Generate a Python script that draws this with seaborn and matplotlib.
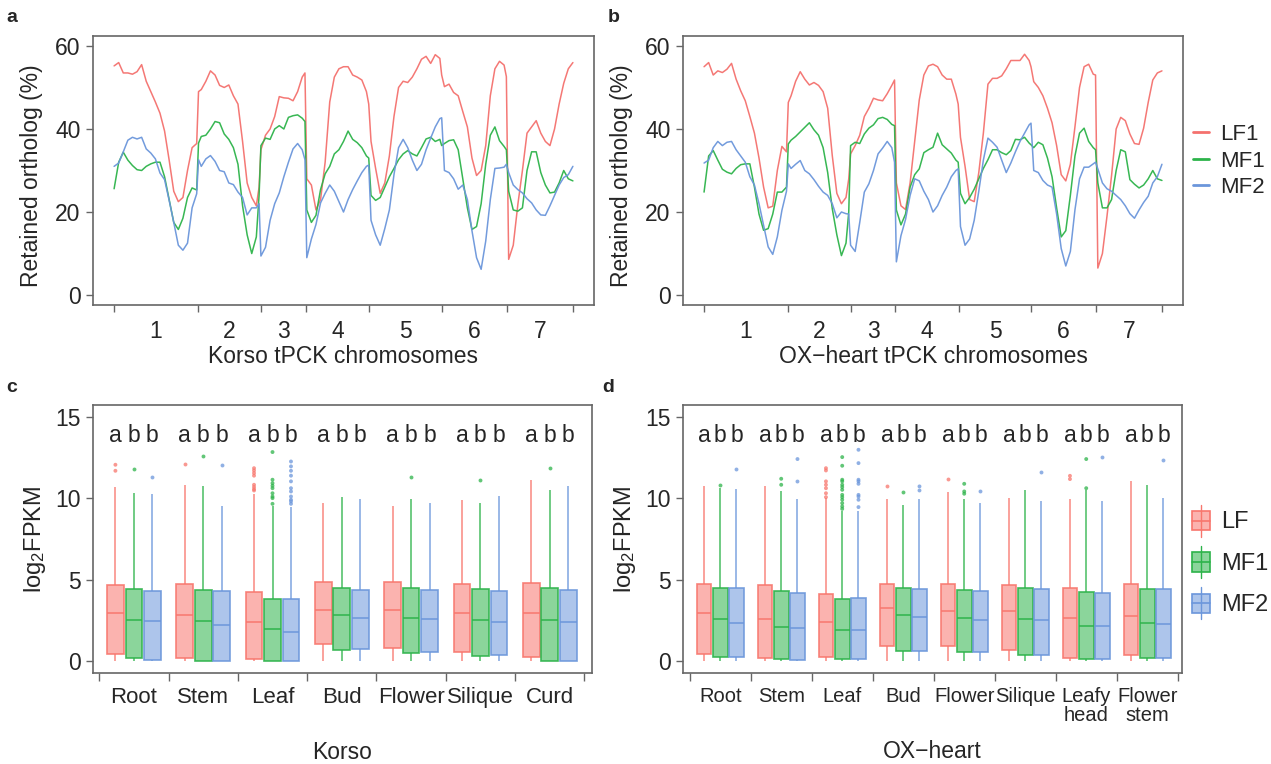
import numpy as np
import pandas as pd
import matplotlib
matplotlib.use("Agg")
import matplotlib.pyplot as plt
import matplotlib.colors as mcolors
import seaborn as sns
from matplotlib.legend_handler import HandlerBase
from matplotlib.patches import Patch, Rectangle
from matplotlib.lines import Line2D


# ── Retained ortholog (%) along the concatenated tPCK chromosomes ───────────
CHROMS = ["1", "2", "3", "4", "5", "6", "7"]
CHR_BOUNDS = [0, 183, 320, 418, 556, 715, 856, 1000]
# window positions (regular steps plus one extra point before each boundary)
POS = sorted(list(range(0, 1001, 10)) + [184, 316, 416, 555, 714, 855])

KORSO_LF1 = [55.2, 56.0, 53.5, 53.5, 53.2, 53.8, 55.5, 51.5, 49.0, 46.5, 43.8, 39.5, 32.5, 25.0, 22.5, 23.5, 30.0, 35.5, 36.5,
             49.0, 49.5, 51.5, 54.0, 53.0, 50.5, 50.0, 50.6, 48.0, 46.0, 37.0, 27.0, 23.5, 21.5,
             26.0, 35.0, 38.5, 40.0, 43.0, 47.8, 47.5, 47.4, 46.8, 49.0, 52.5,
             53.5, 28.0, 26.5, 20.5, 23.0, 32.0, 46.5, 52.5, 54.5, 55.0, 55.0, 53.0, 52.5, 51.8, 49.0,
             46.0, 37.0, 30.5, 24.5, 27.0, 33.5, 43.0, 50.0, 51.5, 51.2, 52.5, 54.5, 56.8, 57.5, 55.8, 57.9, 57.0,
             53.0, 50.2, 50.8, 48.8, 48.0, 44.2, 40.5, 33.0, 28.8, 30.0, 36.0, 48.0, 54.5, 56.3, 55.4,
             52.6, 8.6, 12.0, 21.8, 30.0, 39.0, 40.5, 42.0, 39.0, 37.0, 36.0, 40.0, 46.0, 51.0, 54.5, 56.0]
KORSO_MF1 = [25.6, 32.0, 34.4, 32.5, 31.2, 30.2, 30.0, 31.0, 31.6, 32.0, 32.0, 28.5, 23.0, 17.5, 15.8, 18.5, 23.5, 25.8, 25.3,
             36.6, 38.2, 38.5, 40.0, 41.8, 41.5, 38.8, 37.5, 35.5, 31.5, 21.5, 14.5, 10.0, 14.0,
             24.0, 36.0, 37.8, 37.5, 40.0, 40.8, 40.0, 42.8, 43.2, 43.4, 42.6,
             41.8, 20.5, 17.5, 19.2, 25.4, 29.2, 31.0, 34.0, 35.0, 37.0, 39.5, 37.5, 36.7, 35.5, 33.5,
             33.0, 24.0, 22.8, 23.5, 26.0, 28.5, 30.5, 32.6, 34.0, 34.8, 34.0, 33.5, 35.5, 37.6, 38.0, 37.0, 37.5,
             36.0, 36.5, 37.2, 37.4, 35.0, 28.0, 21.0, 15.8, 16.5, 22.0, 31.5, 38.5, 40.5, 37.2, 35.8,
             35.0, 25.0, 20.5, 20.2, 21.0, 30.0, 34.5, 34.5, 29.5, 26.5, 24.6, 24.8, 27.0, 30.0, 28.0, 27.5]
KORSO_MF2 = [31.0, 31.8, 34.5, 37.3, 38.0, 37.6, 38.0, 35.2, 34.2, 32.8, 29.4, 27.8, 22.8, 17.5, 12.0, 10.8, 12.5, 21.0, 24.4,
             32.6, 31.0, 32.8, 33.6, 32.2, 30.0, 29.7, 27.0, 26.6, 24.8, 23.5, 19.3, 21.0, 21.0,
             22.0, 9.4, 11.5, 18.0, 22.0, 24.6, 28.5, 32.0, 35.2, 36.5, 35.0,
             32.6, 9.0, 13.5, 17.0, 22.2, 24.5, 26.5, 25.0, 22.5, 20.0, 23.0, 25.4, 27.5, 29.5, 31.0,
             31.3, 18.0, 14.5, 12.0, 16.0, 20.5, 29.0, 35.5, 37.5, 35.5, 32.5, 30.0, 31.5, 35.0, 37.8, 40.5, 42.5,
             42.7, 30.0, 29.5, 28.0, 25.5, 26.5, 23.0, 15.5, 9.0, 6.2, 13.0, 23.0, 30.5, 30.6, 30.8,
             31.5, 29.5, 26.5, 25.4, 24.6, 23.2, 22.2, 20.5, 19.3, 19.2, 21.5, 24.0, 26.5, 28.3, 29.0, 31.0]

OX_LF1 = [55.0, 56.0, 53.0, 54.0, 53.6, 54.4, 55.8, 52.0, 49.2, 46.8, 43.0, 39.0, 33.0, 26.0, 21.0, 21.4, 30.0, 35.8, 34.5,
          46.4, 48.0, 51.5, 53.8, 52.0, 50.6, 51.2, 50.5, 49.0, 45.0, 33.6, 24.5, 22.0, 23.5,
          28.0, 34.0, 36.0, 38.5, 43.0, 45.0, 47.4, 47.0, 46.8, 48.5, 50.5,
          51.8, 27.0, 21.5, 20.6, 27.0, 37.0, 47.0, 53.0, 55.2, 55.6, 55.0, 53.0, 52.0, 52.0, 48.4,
          46.0, 38.0, 31.0, 23.0, 22.5, 29.5, 39.0, 50.8, 52.2, 52.2, 52.8, 54.5, 56.5, 56.5, 56.5, 58.0, 56.5,
          55.0, 51.4, 50.0, 48.0, 45.0, 41.5, 36.0, 29.0, 27.5, 31.5, 40.5, 50.0, 55.0, 55.6, 53.2,
          53.0, 6.5, 10.0, 19.0, 28.8, 40.0, 42.8, 42.0, 38.8, 36.5, 36.3, 40.2, 46.4, 51.8, 53.5, 54.0]
OX_MF1 = [24.8, 33.5, 34.8, 32.5, 30.3, 29.6, 29.2, 30.5, 31.4, 31.6, 31.6, 26.0, 19.5, 15.6, 16.0, 19.5, 24.8, 24.8, 26.0,
          36.4, 37.3, 38.2, 39.3, 40.4, 41.5, 39.8, 38.5, 35.5, 29.5, 20.8, 14.5, 9.5, 12.5,
          20.0, 36.0, 36.8, 36.5, 38.8, 40.2, 41.0, 42.5, 42.8, 42.3, 41.1,
          40.8, 20.5, 16.9, 19.5, 26.0, 29.0, 30.4, 34.3, 35.0, 35.6, 39.0, 36.2, 35.2, 34.2, 32.5,
          32.0, 24.5, 22.0, 23.5, 25.5, 28.0, 30.5, 32.6, 35.0, 35.0, 34.3, 33.8, 34.8, 37.5, 37.4, 38.0, 36.6,
          36.2, 35.5, 36.8, 36.2, 33.0, 28.5, 21.0, 14.0, 15.5, 24.0, 33.5, 39.0, 40.2, 37.0, 35.5,
          35.0, 27.0, 21.0, 21.0, 23.0, 30.0, 35.0, 34.5, 27.8, 26.7, 25.8, 26.5, 28.0, 30.0, 28.0, 27.6]
OX_MF2 = [31.8, 32.5, 35.5, 37.0, 36.0, 36.8, 37.0, 35.0, 33.5, 32.0, 28.5, 26.5, 22.0, 16.8, 11.6, 9.8, 14.0, 20.4, 25.0,
          31.6, 30.5, 31.5, 32.4, 30.0, 29.2, 27.8, 26.2, 24.8, 24.0, 22.0, 18.6, 20.0, 19.6,
          19.5, 12.0, 10.5, 17.5, 24.8, 26.8, 30.0, 34.0, 35.4, 37.0, 35.5,
          32.0, 8.0, 14.3, 18.2, 24.0, 28.0, 27.5, 25.0, 23.0, 20.0, 21.5, 24.0, 26.0, 28.5, 30.0,
          30.4, 16.5, 12.0, 13.5, 18.0, 25.0, 32.5, 37.8, 36.8, 35.6, 32.5, 29.5, 31.8, 34.5, 37.0, 39.0, 41.0,
          41.4, 30.0, 29.5, 27.6, 26.5, 26.0, 19.5, 11.2, 7.0, 10.5, 20.5, 28.0, 30.8, 30.8, 31.6,
          32.0, 30.4, 27.0, 25.6, 25.0, 24.0, 23.0, 21.5, 19.6, 18.5, 20.5, 22.3, 23.8, 27.0, 28.5, 31.5]

# ── log2 FPKM box summaries: [whisker low, Q1, median, Q3, whisker high] ────
KORSO_TISSUES = ["Root", "Stem", "Leaf", "Bud", "Flower", "Silique", "Curd"]
OX_TISSUES = ["Root", "Stem", "Leaf", "Bud", "Flower", "Silique", "Leafy\nhead", "Flower\nstem"]
GROUPS = ["LF", "MF1", "MF2"]
LETTERS = ["a", "b", "b"]

KORSO_BOX_LF = [[0, 0.41, 2.93, 4.65, 10.66], [0, 0.16, 2.81, 4.75, 10.82], [0, 0.14, 2.38, 4.22, 10.23],
                [0, 1.02, 3.14, 4.82, 9.69], [0, 0.82, 3.14, 4.86, 9.49], [0, 0.53, 2.93, 4.75, 9.86],
                [0, 0.23, 2.93, 4.80, 11.13]]
KORSO_BOX_MF1 = [[0, 0.16, 2.54, 4.39, 10.30], [0, 0.0, 2.44, 4.36, 10.72], [0, 0.0, 1.95, 3.81, 9.49],
                 [0, 0.66, 2.81, 4.51, 10.04], [0, 0.47, 2.66, 4.47, 9.94], [0, 0.33, 2.54, 4.41, 9.71],
                 [0, 0.0, 2.50, 4.47, 10.51]]
KORSO_BOX_MF2 = [[0, 0.08, 2.44, 4.32, 10.25], [0, 0.0, 2.23, 4.32, 9.49], [0, 0.0, 1.80, 3.81, 9.43],
                 [0, 0.72, 2.66, 4.36, 9.94], [0, 0.53, 2.56, 4.36, 9.69], [0, 0.39, 2.42, 4.32, 10.14],
                 [0, 0.0, 2.38, 4.36, 10.76]]

OX_BOX_LF = [[0, 0.45, 2.93, 4.75, 10.76], [0, 0.16, 2.56, 4.65, 10.72], [0, 0.23, 2.38, 4.10, 10.00],
             [0, 0.94, 3.24, 4.75, 9.94], [0, 0.92, 3.09, 4.75, 10.37], [0, 0.68, 3.09, 4.69, 10.00],
             [0, 0.20, 2.64, 4.51, 9.96], [0, 0.35, 2.79, 4.71, 11.07]]
OX_BOX_MF1 = [[0, 0.23, 2.56, 4.47, 10.61], [0, 0.12, 2.09, 4.30, 10.45], [0, 0.12, 1.91, 3.79, 9.24],
              [0, 0.64, 2.81, 4.51, 9.59], [0, 0.53, 2.64, 4.36, 9.96], [0, 0.35, 2.56, 4.45, 10.51],
              [0, 0.10, 2.17, 4.26, 10.47], [0, 0.16, 2.32, 4.41, 10.82]]
OX_BOX_MF2 = [[0, 0.27, 2.32, 4.47, 10.55], [0, 0.08, 2.00, 4.20, 9.94], [0, 0.12, 1.91, 3.85, 9.18],
              [0, 0.64, 2.68, 4.43, 9.94], [0, 0.55, 2.50, 4.30, 9.73], [0, 0.37, 2.54, 4.39, 9.84],
              [0, 0.10, 2.17, 4.16, 9.84], [0, 0.20, 2.27, 4.39, 9.98]]

# outliers beyond the whiskers
KORSO_OUT_LF = {"Root": [12.05, 11.68], "Stem": [12.11],
                "Leaf": [11.84, 11.70, 11.54, 11.38, 10.82, 10.68, 10.55, 10.47]}
KORSO_OUT_MF1 = {"Root": [11.78], "Stem": [12.60],
                 "Leaf": [12.83, 11.13, 10.92, 10.76, 10.61, 10.30, 10.10, 10.00, 9.65],
                 "Flower": [11.29], "Silique": [11.13], "Curd": [11.84]}
KORSO_OUT_MF2 = {"Root": [11.29], "Stem": [12.05],
                 "Leaf": [12.25, 11.95, 11.68, 11.38, 11.03, 10.61, 10.41, 10.10, 9.90, 9.80, 9.65]}

OX_OUT_LF = {"Leaf": [11.84, 11.70, 11.03, 10.82, 10.61, 10.30, 10.06], "Bud": [10.76],
             "Flower": [11.19], "Leafy\nhead": [11.37, 11.17]}
OX_OUT_MF1 = {"Root": [10.82], "Stem": [11.19, 10.82],
              "Leaf": [12.52, 11.99, 11.13, 11.03, 10.82, 10.68, 10.51, 10.20, 10.06, 9.90, 9.69, 9.49, 9.34],
              "Bud": [10.35], "Flower": [10.88, 10.41, 10.27], "Leafy\nhead": [12.40, 10.61]}
OX_OUT_MF2 = {"Root": [11.78], "Stem": [12.40, 11.02],
              "Leaf": [12.97, 12.15, 11.13, 11.03, 10.88, 10.20, 10.10, 9.90, 9.45],
              "Bud": [10.72, 10.47], "Flower": [10.41], "Silique": [11.62],
              "Leafy\nhead": [12.50], "Flower\nstem": [12.34]}

LINE_COLORS = {"LF1": "#F4716E", "MF1": "#2DB34A", "MF2": "#6B96DB"}
BOX_COLORS = {"LF": "#F8766D", "MF1": "#2DB34A", "MF2": "#6B96DB"}
FRAME = "#666666"

sns.set_theme(style="ticks")
plt.rcParams["font.family"] = ["Liberation Sans", "DejaVu Sans"]
plt.rcParams["mathtext.fontset"] = "custom"
plt.rcParams["mathtext.rm"] = "Liberation Sans"

W, H = 1271, 764
fig = plt.figure(figsize=(W / 100, H / 100), dpi=100)


def px_axes(left, top, right, bottom):
    return fig.add_axes([left / W, 1 - bottom / H, (right - left) / W, (bottom - top) / H])


def frame(ax):
    for sp in ax.spines.values():
        sp.set_visible(True)
        sp.set_color(FRAME)
        sp.set_linewidth(1.2)
    ax.tick_params(axis="both", which="major", color=FRAME, width=1.0, length=5,
                   labelsize=16.5, pad=4, direction="out")


# ── a / b : ortholog retention lines ────────────────────────────────────────
def line_panel(ax, lf1, mf1, mf2, xlabel):
    df = pd.concat([
        pd.DataFrame({"pos": POS, "value": lf1, "group": "LF1"}),
        pd.DataFrame({"pos": POS, "value": mf1, "group": "MF1"}),
        pd.DataFrame({"pos": POS, "value": mf2, "group": "MF2"}),
    ])
    sns.lineplot(data=df, x="pos", y="value", hue="group", palette=LINE_COLORS,
                 estimator=None, linewidth=1.1, alpha=0.95, legend=False, ax=ax)
    frame(ax)
    ax.set_xlim(-46, 1046)
    ax.set_ylim(-2.4, 62.4)
    ax.set_yticks([0, 20, 40, 60])
    centers = [(a + b) / 2 for a, b in zip(CHR_BOUNDS[:-1], CHR_BOUNDS[1:])]
    ax.set_xticks(CHR_BOUNDS)
    ax.set_xticklabels([])
    ax.set_xticks(centers, minor=True)
    ax.set_xticklabels(CHROMS, minor=True)
    ax.tick_params(axis="x", which="minor", length=0, pad=10.5, labelsize=16.5)
    ax.set_xlabel(xlabel, fontsize=16.5)
    ax.xaxis.set_label_coords(0.5, -0.15)
    ax.set_ylabel("Retained ortholog (%)", fontsize=16.5)
    ax.yaxis.set_label_coords(-0.1, 0.48)


ax_a = px_axes(93, 36, 594, 305)
line_panel(ax_a, KORSO_LF1, KORSO_MF1, KORSO_MF2, "Korso tPCK chromosomes")
ax_b = px_axes(683, 36, 1183, 305)
line_panel(ax_b, OX_LF1, OX_MF1, OX_MF2, "OX\u2212heart tPCK chromosomes")

line_handles = [Line2D([], [], color=c, lw=2) for c in LINE_COLORS.values()]
ax_b.legend(line_handles, list(LINE_COLORS.keys()), loc="center left",
            bbox_to_anchor=(1.021, 0.535), frameon=False, fontsize=16,
            handlelength=0.7, handletextpad=0.5, labelspacing=0.25,
            borderpad=0, borderaxespad=0)


# ── c / d : expression boxplots ─────────────────────────────────────────────
class BoxKey(HandlerBase):
    def create_artists(self, legend, orig_handle, xdescent, ydescent,
                       width, height, fontsize, trans):
        ec = orig_handle.get_edgecolor()
        fc = orig_handle.get_facecolor()
        x0, y0 = -xdescent, -ydescent
        whisk = Line2D([x0 + width / 2] * 2, [y0, y0 + height], color=ec, lw=1.0, transform=trans)
        box = Rectangle((x0, y0 + 0.2 * height), width, 0.6 * height,
                        facecolor=fc, edgecolor=ec, lw=1.2, transform=trans)
        med = Line2D([x0, x0 + width], [y0 + height / 2] * 2, color=ec, lw=1.2, transform=trans)
        return [whisk, box, med]


def nearest_group(rgb):
    return min(GROUPS, key=lambda g: np.abs(np.array(mcolors.to_rgb(BOX_COLORS[g])) - rgb).sum())


def box_panel(ax, tissues, boxes, outliers, xlabel, tick_size):
    rows = []
    for grp, per_tissue in zip(GROUPS, boxes):
        for t, five in zip(tissues, per_tissue):
            rows += [(t, grp, v) for v in five]
    df = pd.DataFrame(rows, columns=["tissue", "group", "value"])
    sns.boxplot(data=df, x="tissue", y="value", hue="group", order=tissues, hue_order=GROUPS,
                palette=BOX_COLORS, saturation=1, whis=np.inf, width=0.8, gap=0.1,
                linewidth=1.2, fliersize=0, showcaps=False, legend=False, ax=ax)
    # translucent fill, coloured outlines
    for cont in ax.containers:
        for i, patch in enumerate(cont.boxes):
            col = BOX_COLORS[nearest_group(np.array(patch.get_facecolor()[:3]))]
            patch.set_facecolor(mcolors.to_rgba(col, 0.55))
            patch.set_edgecolor(mcolors.to_rgba(col, 0.9))
            cont.medians[i].set_color(mcolors.to_rgba(col, 0.9))
            for w in cont.whiskers[2 * i:2 * i + 2]:
                w.set_color(mcolors.to_rgba(col, 0.8))

    orows = []
    for grp, out in zip(GROUPS, outliers):
        for t, vals in out.items():
            orows += [(t, grp, v) for v in vals]
    odf = pd.DataFrame(orows, columns=["tissue", "group", "value"])
    sns.stripplot(data=odf, x="tissue", y="value", hue="group", order=tissues, hue_order=GROUPS,
                  palette=BOX_COLORS, dodge=True, jitter=False, size=2.8, alpha=0.75,
                  linewidth=0, legend=False, ax=ax)

    for i in range(len(tissues)):
        for j, letter in enumerate(LETTERS):
            ax.text(i + (j - 1) * 0.8 / 3, 13.45, letter, ha="center", va="baseline", fontsize=16.5)

    frame(ax)
    n = len(tissues)
    ax.set_ylim(-0.74, 15.72)
    ax.set_yticks([0, 5, 10, 15])
    ax.set_xticks([k - 0.5 for k in range(n + 1)])
    ax.set_xticklabels([])
    ax.set_xticks(range(n), minor=True)
    ax.set_xticklabels(tissues, minor=True, linespacing=1.0)
    ax.tick_params(axis="x", which="minor", length=0, pad=10, labelsize=tick_size)
    ax.tick_params(axis="x", which="major", length=6)
    ax.set_xlabel(xlabel, fontsize=16.5)
    ax.set_ylabel(r"$\mathregular{log_2FPKM}$", fontsize=17)
    ax.yaxis.set_label_coords(-0.09, 0.5)


ax_c = px_axes(93, 405, 592, 673)
box_panel(ax_c, KORSO_TISSUES, [KORSO_BOX_LF, KORSO_BOX_MF1, KORSO_BOX_MF2],
          [KORSO_OUT_LF, KORSO_OUT_MF1, KORSO_OUT_MF2], "Korso", 16)
ax_c.set_xlim(-0.59, 6.61)
ax_c.xaxis.set_label_coords(0.5, -0.255)

ax_d = px_axes(683, 405, 1182, 673)
box_panel(ax_d, OX_TISSUES, [OX_BOX_LF, OX_BOX_MF1, OX_BOX_MF2],
          [OX_OUT_LF, OX_OUT_MF1, OX_OUT_MF2], "OX\u2212heart", 14.5)
ax_d.set_xlim(-0.61, 7.57)
ax_d.xaxis.set_label_coords(0.5, -0.25)

box_handles = [Patch(facecolor=mcolors.to_rgba(c, 0.55), edgecolor=c) for c in BOX_COLORS.values()]
ax_d.legend(box_handles, GROUPS, handler_map={Patch: BoxKey()}, loc="center left",
            bbox_to_anchor=(1.02, 0.414), frameon=False, fontsize=17,
            handlelength=0.75, handleheight=1.7, handletextpad=0.5, labelspacing=0.4,
            borderpad=0, borderaxespad=0)

# panel letters
for label, (x, y) in {"a": (12, 18), "b": (614, 18), "c": (12, 388), "d": (608, 388)}.items():
    fig.text(x / W, 1 - y / H, label, fontsize=14, fontweight="bold", ha="center", va="center")

fig.savefig("out.png", dpi=100)
